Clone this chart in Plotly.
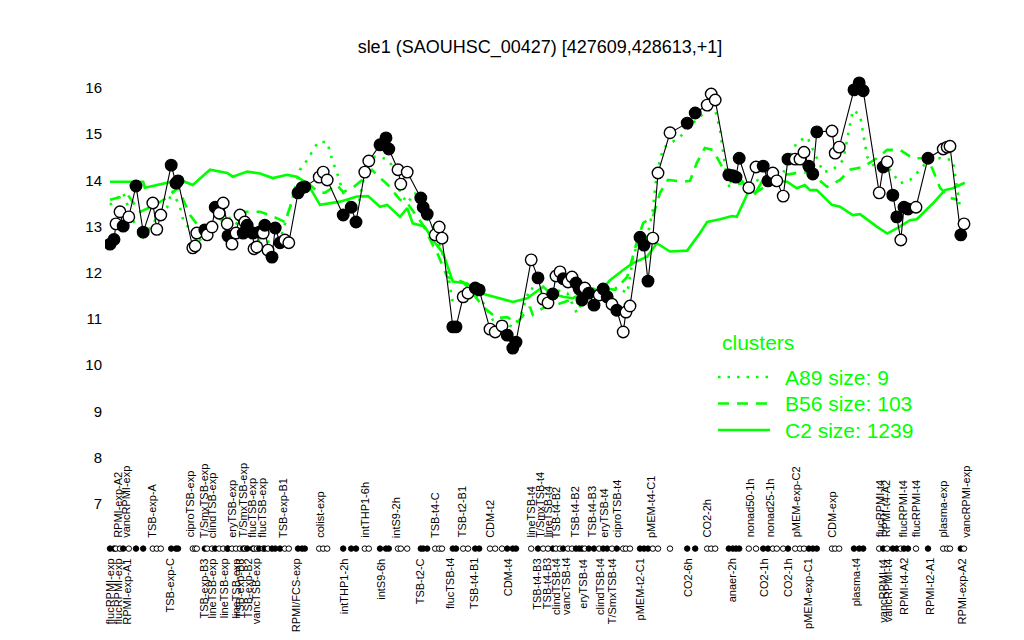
import plotly.graph_objects as go

TITLE = "sle1 (SAOUHSC_00427) [427609,428613,+1]"

# sample positions (ordinal slot), expression values and marker fill (1 = filled)
sample_pos = [2.5, 3.5, 4, 5, 5.8, 7.2, 9, 10.8, 13.2, 14.2, 15.2, 17.8, 19, 19.5,
              23.2, 23.8, 24.2, 26.2, 26.8, 28, 28.8, 29.8, 30.8, 31.8, 32, 33, 34, 35,
              35.8, 36.2, 36.8, 38.2, 38.5, 39.2, 39.8, 40.8, 41.2, 42, 43, 43.8, 45,
              46.2, 47.2, 49.5, 50.5, 51.2, 54.8, 55.8, 56.8, 60.8, 62.8, 64, 66.2, 67.2,
              70, 71.5, 72.2, 74.5, 75.2, 76.8, 80.2, 80.8, 81.8, 83.8, 84.8, 85.5, 88.2,
              89, 90.8, 92, 93.8, 94.8, 97.5, 98.8, 100.5, 101.8, 103.2, 104, 107.8,
              109.5, 110.8, 112, 113.2, 114, 115, 115.8, 117, 118, 119, 119.8, 120.5,
              121.2, 122.2, 123.5, 124.8, 125.8, 126.8, 128, 129.2, 130.8, 131.5, 132.5,
              135, 136, 137, 138.2, 139.5, 142.5, 146.8, 148.8, 151.8, 152.8, 153.8,
              157.2, 158.2, 159, 159.8, 162.2, 164, 165.8, 167, 168.2, 169.2, 170.8, 172,
              173.8, 175, 176, 177.2, 178.2, 179.2, 183, 183.8, 184.8, 188.5, 189.8,
              190.8, 194.8, 195.8, 196.8, 198.2, 199.2, 200.2, 201, 202, 204, 207, 210.8,
              211.8, 212.5, 215.2, 216]
sample_val = [12.62, 12.72, 13.06, 13.32, 13.01, 13.21, 13.88, 12.88, 13.51, 12.94, 13.25,
              14.33, 13.94, 13.99, 12.54, 12.58, 12.86, 12.93, 12.82, 12.99, 13.42, 13.29,
              13.51, 13.06, 12.80, 12.62, 12.86, 13.25, 12.86, 13.10, 13.03, 12.86, 12.52,
              12.56, 12.88, 12.86, 13.03, 12.49, 12.34, 12.97, 12.65, 12.71, 12.65, 13.73,
              13.84, 13.86, 14.07, 14.18, 14.01, 13.25, 13.42, 13.10, 14.18, 14.42, 14.77,
              14.92, 14.68, 14.23, 13.92, 14.18, 13.62, 13.42, 13.27, 12.82, 12.99, 12.75,
              10.83, 10.83, 11.48, 11.56, 11.67, 11.63, 10.78, 10.72, 10.85, 10.65, 10.37,
              10.50, 12.28, 11.89, 11.43, 11.35, 11.54, 11.93, 12.02, 11.87, 11.80, 11.91,
              11.78, 11.65, 11.41, 11.67, 11.56, 11.30, 11.52, 11.65, 11.48, 11.32, 11.19,
              10.72, 11.15, 11.28, 12.77, 12.60, 11.82, 12.75, 14.16, 15.03, 15.24, 15.46,
              15.63, 15.87, 15.74, 14.12, 14.10, 14.07, 14.48, 13.84, 14.29, 14.31, 13.99,
              14.16, 13.99, 13.66, 14.46, 14.46, 14.46, 14.61, 14.31, 14.14, 15.05, 15.07,
              14.59, 14.72, 15.96, 16.11, 15.94, 13.73, 14.29, 14.40, 13.68, 13.21, 12.71,
              13.42, 13.38, 13.42, 14.48, 14.68, 14.72, 14.74, 12.82, 13.06]
sample_filled = [1, 1, 0, 0, 1, 0, 1, 1, 0, 0, 0, 1, 1, 1, 0, 0, 0, 1, 0, 0, 1, 0, 0, 0, 1,
                 0, 0, 0, 1, 0, 1, 1, 0, 0, 1, 0, 1, 0, 1, 1, 1, 0, 0, 1, 1, 1, 0, 0, 0, 1,
                 1, 1, 0, 0, 1, 1, 1, 0, 0, 0, 1, 1, 1, 0, 0, 0, 1, 1, 0, 0, 1, 1, 0, 0, 0,
                 1, 1, 1, 0, 1, 0, 0, 1, 0, 0, 1, 0, 0, 1, 1, 1, 0, 1, 1, 0, 1, 1, 0, 1, 0,
                 0, 0, 1, 1, 1, 0, 0, 0, 1, 1, 0, 0, 0, 1, 1, 1, 1, 0, 0, 1, 1, 0, 0, 0, 1,
                 0, 0, 0, 1, 1, 1, 0, 0, 0, 1, 1, 1, 0, 1, 0, 1, 1, 0, 1, 1, 0, 1, 0, 0, 0,
                 1, 0]

# cluster mean profiles
a89_pos = [2.5, 5.8, 8.2, 10.8, 13.8, 16.8, 18, 20, 20.8, 22.5, 25, 26.8, 30, 33.2, 36.8,
           39.2, 41.8, 45, 47.5, 50, 51.8, 54.5, 56.8, 57.5, 58.2, 59.2, 60.8, 64.2, 65.5,
           66.2, 68, 70, 72, 73.8, 75, 76.8, 78.8, 80.8, 83.2, 85, 86.8, 88, 89.2, 90.8,
           93.2, 95.8, 98.2, 100.8, 103.2, 105, 107.5, 109.2, 110.8, 113.8, 116.8, 119.2,
           120.8, 123.2, 126.2, 129.2, 131.8, 133.2, 134.5, 136.8, 138.2, 139.2, 140.8,
           145, 148.2, 151.8, 153.8, 155, 157, 159.5, 162, 164.5, 167.5, 170.8, 174.2,
           176.8, 178.2, 180.8, 183.2, 185.8, 188.2, 190, 191.8, 194.2, 197.5, 200, 202.5,
           205, 207.5, 210, 213.2, 215]
a89_val = [13.47, 13.73, 13.14, 12.77, 13.14, 13.42, 13.79, 13.42, 13.14, 12.93, 12.71,
           12.86, 13.19, 13.14, 12.86, 12.71, 12.67, 12.71, 13.42, 14.23, 14.44, 14.83,
           14.83, 14.61, 14.40, 14.18, 13.73, 13.29, 13.86, 14.16, 14.51, 14.51, 14.44,
           14.23, 13.75, 13.51, 13.73, 13.29, 12.99, 12.56, 12.13, 11.41, 11.41, 11.56,
           11.56, 11.35, 10.98, 10.91, 10.83, 11.04, 11.67, 11.63, 11.56, 11.63, 11.56,
           11.13, 11.41, 11.69, 11.41, 11.69, 11.56, 12.28, 12.71, 12.77, 13.36, 14.16,
           14.70, 14.94, 15.24, 15.52, 15.52, 15.09, 13.86, 14.07, 13.86, 14.01, 14.07,
           14.16, 14.83, 14.94, 14.66, 14.18, 14.23, 14.44, 15.52, 15.42, 14.51, 14.23,
           14.23, 13.94, 14.01, 14.23, 14.48, 14.48, 14.44, 13.42]
b56_pos = [2.5, 7, 10, 13.8, 17, 19.5, 22.5, 25, 28.8, 32.5, 36.2, 40, 43, 46.2, 49.2, 52.5,
           54.5, 56.2, 59.2, 60.8, 63.2, 65.5, 68, 69.2, 72, 75, 76.8, 80.8, 83.2, 84.5,
           86.8, 90.8, 93.2, 95.8, 99.2, 101.8, 104.2, 107.5, 108.2, 110.8, 113.8, 117.5,
           120.8, 123, 125.8, 128.8, 131.8, 134.2, 135.8, 138.2, 140, 142, 145.8, 147.5,
           149.2, 151.2, 153.2, 155.5, 157, 158.2, 160.8, 163.8, 165.8, 168, 171.2, 174.2,
           177.5, 181.8, 185, 187.5, 190.8, 194.2, 196.8, 200, 203.2, 206.8, 208.2, 210,
           212.5, 214.5]
b56_val = [13.58, 13.68, 13.32, 13.47, 13.64, 13.84, 13.25, 12.97, 13.10, 13.19, 13.32,
           13.32, 13.23, 13.10, 13.84, 13.90, 13.75, 13.73, 13.90, 13.75, 13.84, 14.01,
           14.23, 14.12, 13.90, 13.58, 13.51, 13.03, 12.60, 12.39, 11.91, 11.80, 11.56,
           11.26, 11.02, 11.04, 10.91, 11.26, 11.09, 11.24, 11.30, 11.41, 11.30, 11.58,
           11.67, 11.63, 11.91, 12.67, 13.08, 13.21, 13.73, 14.01, 13.97, 13.99, 14.38,
           14.70, 14.66, 14.29, 14.07, 13.90, 13.94, 13.73, 13.84, 14.05, 14.12, 14.16,
           14.18, 13.86, 14.01, 14.23, 14.29, 14.48, 14.66, 14.66, 14.48, 14.48, 14.23,
           13.84, 13.62, 13.58]
c2_pos = [2.5, 10.8, 11.2, 15, 17.5, 20, 23.2, 27.5, 31.8, 33.2, 36.8, 40, 43.2, 46.8, 49.2,
          51.8, 55, 60, 64.2, 67, 70, 71.8, 75, 76.8, 78.2, 81.2, 83.2, 85.8, 88.2, 91.8,
          95, 100, 103.2, 106.8, 110.8, 112.5, 115.8, 118.2, 123.2, 125, 127.5, 130.8,
          133.2, 136.8, 139.2, 142.5, 146.8, 150, 151.8, 155, 158, 159.2, 162.5, 163.8,
          165.8, 169.2, 171.8, 174.2, 176.2, 177.5, 179.2, 183, 185, 188.2, 190, 194.2,
          196.8, 199.2, 202.5, 204.2, 208.2, 211.2, 213.2, 216.2]
c2_val = [13.97, 13.97, 13.84, 13.92, 13.97, 14.01, 13.90, 14.23, 14.16, 14.08, 14.19,
          14.15, 14.05, 14.12, 14.08, 13.94, 13.47, 13.54, 13.65, 13.66, 13.43, 13.47,
          13.21, 13.40, 13.07, 13.00, 12.71, 12.42, 11.81, 11.77, 11.56, 11.45, 11.37,
          11.45, 11.70, 11.56, 11.48, 11.45, 11.66, 11.59, 11.84, 12.06, 12.21, 12.35,
          12.64, 12.46, 12.48, 12.86, 13.10, 13.16, 13.23, 13.21, 13.83, 13.72, 14.02,
          13.99, 13.97, 13.83, 13.90, 13.79, 13.79, 13.47, 13.43, 13.25, 13.27, 13.00,
          12.85, 12.96, 13.14, 13.16, 13.50, 13.79, 13.83, 13.95]

cluster_names = ["A89 size: 9", "B56 size: 103", "C2 size: 1239"]
cluster_dash = ["2.5px,7px", "11px,8px", "solid"]
LEGEND_TITLE = "clusters"

# condition labels above / below the sample strip
top_labels = ["RPMI-exp-A2", "vancRPMI-exp", "TSB-exp-A", "ciproTSB-exp", "T/SmxTSB-exp",
              "clindTSB-exp", "eryTSB-exp", "T/SmxTSB-exp", "flucTSB-exp", "flucTSB-exp",
              "TSB-exp-B1", "colist-exp", "intTHP1-6h", "intS9-2h", "TSB-t4-C",
              "TSB-t2-B1", "CDM-t2", "lineTSB-t4", "T/SmxTSB-t4", "lineTSB-t4",
              "TSB-t4-B2", "TSB-t4-B2", "TSB-t4-B3", "eryTSB-t4", "ciproTSB-t4",
              "pMEM-t4-C1", "CO2-2h", "nonad50-1h", "nonad25-1h", "pMEM-exp-C2",
              "CDM-exp", "flucRPMI-t4", "RPMI-t4-A2", "flucRPMI-t4", "flucRPMI-t4",
              "plasma-exp", "vancRPMI-exp"]
top_pos = [4.5, 6.5, 13, 22.5, 26.2, 28.2, 33, 35.8, 38, 40.5, 45.8, 55, 66.2, 74.2, 83.8,
           90.5, 97.5, 107.8, 110, 112, 114.2, 118.8, 123, 126, 129.2, 137.8, 151.8,
           162.5, 167.5, 174, 183, 195, 196.5, 200.8, 204, 210.8, 216.5]
bottom_labels = ["flucRPMI-exp", "flucRPMI-exp", "RPMI-exp-A1", "TSB-exp-C", "TSB-exp-B3",
                 "lineTSB-exp", "lineTSB-exp", "lineTSB-exp", "TSB-exp-B3", "TSB-exp-B2",
                 "vancTSB-exp", "RPMI/FCS-exp", "intTHP1-2h", "intS9-6h", "TSB-t2-C",
                 "flucTSB-t4", "TSB-t4-B1", "CDM-t4", "TSB-t4-B3", "TSB-t4-B3",
                 "clindTSB-t4", "vancTSB-t4", "eryTSB-t4", "clindTSB-t4", "T/SmxTSB-t4",
                 "pMEM-t2-C1", "CO2-6h", "anaer-2h", "CO2-1h", "CO2-1h", "pMEM-exp-C1",
                 "plasma-t4", "vancRPMI-t4", "vancRPMI-t4", "RPMI-t4-A2", "RPMI-t2-A1",
                 "RPMI-exp-A2"]
bottom_pos = [2.5, 4.5, 6.8, 17.5, 26, 28, 31.2, 34, 35, 37.2, 39.2, 49.2, 61.2, 70.2, 80.2,
              87.5, 93.5, 102.2, 109.2, 111.8, 114, 116.5, 120.8, 125, 128.2, 135, 147,
              158.2, 166, 172, 177, 189.2, 195.8, 197.2, 201, 207.5, 215.5]

y_ticks = [7, 8, 9, 10, 11, 12, 13, 14, 15, 16]
STRIP_Y = 6.03
GREEN = "#00FF00"
FONT = "Liberation Sans, Arial, Helvetica, sans-serif"

fig = go.Figure()
for name, xs, ys, dash in zip(cluster_names, [a89_pos, b56_pos, c2_pos],
                              [a89_val, b56_val, c2_val], cluster_dash):
    fig.add_trace(go.Scatter(x=xs, y=ys, mode="lines", name=name, showlegend=False,
                             line=dict(color=GREEN, width=2.6, dash=dash)))

fig.add_trace(go.Scatter(x=sample_pos, y=sample_val, mode="lines", showlegend=False,
                         line=dict(color="black", width=1.1)))
fig.add_trace(go.Scatter(
    x=sample_pos, y=sample_val, mode="markers", showlegend=False,
    marker=dict(size=11.5, color=["black" if f else "white" for f in sample_filled],
                line=dict(color="black", width=1.4))))
fig.add_trace(go.Scatter(
    x=sample_pos, y=[STRIP_Y] * len(sample_pos), mode="markers", showlegend=False,
    marker=dict(size=5.5, color=["black" if f else "white" for f in sample_filled],
                line=dict(color="black", width=1))))

for lab, p in zip(top_labels, top_pos):
    fig.add_annotation(x=p, y=6.22, text=lab, textangle=-90, showarrow=False,
                       xanchor="center", yanchor="bottom",
                       font=dict(size=11, color="black", family=FONT))
for lab, p in zip(bottom_labels, bottom_pos):
    fig.add_annotation(x=p, y=5.86, text=lab, textangle=-90, showarrow=False,
                       xanchor="center", yanchor="top",
                       font=dict(size=11, color="black", family=FONT))

# legend drawn in paper coordinates of the plot area (R-style, no box)
PLOT_W, PLOT_H = 870.0, 580.0
def px_x(v):
    return (v - 105) / PLOT_W
def px_y(v):
    return 1 - (v - 60) / PLOT_H

fig.add_annotation(xref="paper", yref="paper", x=px_x(720), y=px_y(342), text=LEGEND_TITLE,
                   showarrow=False, xanchor="left", yanchor="middle",
                   font=dict(size=21, color=GREEN, family=FONT))
for i, (name, dash) in enumerate(zip(cluster_names, cluster_dash)):
    row = 377 + i * 26.5
    fig.add_shape(type="line", xref="paper", yref="paper",
                  x0=px_x(718), x1=px_x(770), y0=px_y(row), y1=px_y(row),
                  line=dict(color=GREEN, width=2.6, dash=dash))
    fig.add_annotation(xref="paper", yref="paper", x=px_x(783), y=px_y(row), text=name,
                       showarrow=False, xanchor="left", yanchor="middle",
                       font=dict(size=21, color=GREEN, family=FONT))

# the page body has an 8px margin; the figure is sized so that it fills the window
fig.update_layout(
    width=1016, height=632,
    margin=dict(l=97, r=49, t=52, b=0),
    paper_bgcolor="white", plot_bgcolor="white",
    font=dict(family=FONT, color="black"),
    title=dict(text=TITLE, x=532 / 1016, xanchor="center", y=1 - 39 / 632,
               yanchor="middle", font=dict(size=18, color="black", family=FONT)),
    xaxis=dict(range=[1.25, 218.75], visible=False),
    yaxis=dict(range=[4.052, 16.606], tickvals=y_ticks, showgrid=False, zeroline=False,
               showline=False, ticks="", tickfont=dict(size=15, color="black"),
               ticklabelstandoff=2),
    showlegend=False,
)

fig.write_html("out.html")
